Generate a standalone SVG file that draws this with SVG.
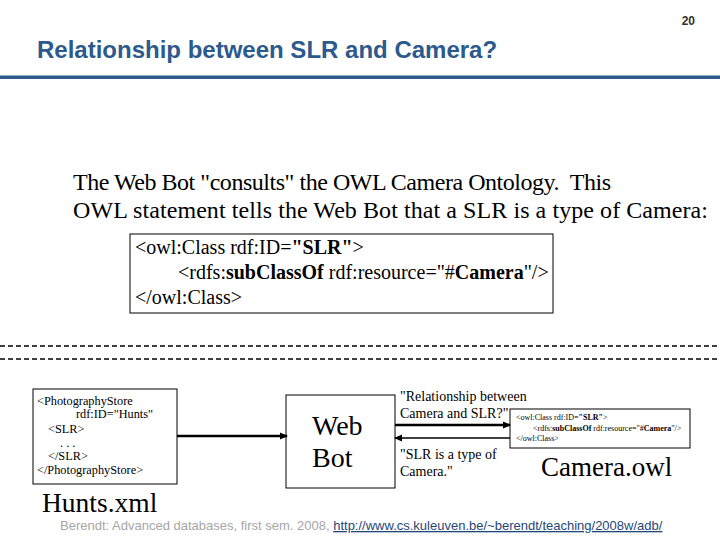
<svg xmlns="http://www.w3.org/2000/svg" width="720" height="540" viewBox="0 0 720 540">
  <style>
    .serif { font-family: "Liberation Serif", "Times New Roman", serif; fill: #000; }
    .sans { font-family: "Liberation Sans", Arial, sans-serif; }
    .box { fill: #fff; stroke: #000; stroke-width: 1; }
    .dash { stroke: #000; stroke-width: 1.3; stroke-dasharray: 5 3; }
    .thick { stroke: #000; stroke-width: 2.5; fill: none; }
    .thin { stroke: #000; stroke-width: 1.3; fill: none; }
    .pre { white-space: pre; }
  </style>
  <defs>
    <marker id="ah" markerWidth="8" markerHeight="8" refX="7" refY="4" orient="auto" markerUnits="userSpaceOnUse">
      <path d="M0,0.5 L8,4 L0,7.5 Z" fill="#000"/>
    </marker>
  </defs>
  <rect width="720" height="540" fill="#fff"/>

  <g id="header">
    <text class="sans" x="695" y="25" font-size="12" font-weight="bold" fill="#333" text-anchor="end">20</text>
    <text class="sans" x="37" y="58" font-size="24" font-weight="bold" fill="#2c5a8c">Relationship between SLR and Camera?</text>
    <rect x="0" y="75.5" width="720" height="3.5" fill="#2c5a8c"/>
  </g>

  <g id="intro-text">
    <text class="serif pre" font-size="24" x="73" y="190" textLength="538">The Web Bot "consults" the OWL Camera Ontology.  This</text>
    <text class="serif pre" font-size="24" x="73" y="218" textLength="635">OWL statement tells the Web Bot that a SLR is a type of Camera:</text>
  </g>

  <g id="owl-statement">
    <rect class="box" x="130" y="234" width="423" height="79"/>
    <text class="serif" font-size="20" x="135" y="254">&lt;owl:Class rdf:ID=<tspan font-weight="bold">"SLR"</tspan>&gt;</text>
    <text class="serif" font-size="20" x="178" y="279">&lt;rdfs:<tspan font-weight="bold">subClassOf</tspan> rdf:resource="#<tspan font-weight="bold">Camera</tspan>"/&gt;</text>
    <text class="serif" font-size="20" x="135" y="304">&lt;/owl:Class&gt;</text>
  </g>

  <g id="separator">
    <line class="dash" x1="0" y1="346" x2="720" y2="346"/>
    <line class="dash" x1="0" y1="359" x2="720" y2="359"/>
  </g>

  <g id="hunts-xml">
    <rect class="box" x="33" y="389" width="144" height="95"/>
    <g class="serif" font-size="12.3">
      <text x="37" y="405">&lt;PhotographyStore</text>
      <text x="76" y="418">rdf:ID="Hunts"</text>
      <text x="48" y="433">&lt;SLR&gt;</text>
      <text x="60" y="447">. . .</text>
      <text x="48" y="460">&lt;/SLR&gt;</text>
      <text x="37" y="474">&lt;/PhotographyStore&gt;</text>
    </g>
    <text class="serif" x="42" y="512" font-size="27.5">Hunts.xml</text>
  </g>

  <g id="web-bot">
    <rect class="box" x="286" y="395" width="109" height="93"/>
    <text class="serif" x="312" y="435" font-size="28">Web</text>
    <text class="serif" x="312" y="467" font-size="28">Bot</text>
  </g>

  <g id="camera-owl">
    <rect class="box" x="510" y="409" width="180" height="39"/>
    <g class="serif" font-size="8">
      <text x="516" y="420">&lt;owl:Class rdf:ID=<tspan font-weight="bold">"SLR"</tspan>&gt;</text>
      <text x="533" y="431">&lt;rdfs:<tspan font-weight="bold">subClassOf</tspan> rdf:resource="#<tspan font-weight="bold">Camera</tspan>"/&gt;</text>
      <text x="516" y="441">&lt;/owl:Class&gt;</text>
    </g>
    <text class="serif" x="541" y="476" font-size="27">Camera.owl</text>
  </g>

  <g id="connectors">
    <line class="thick" x1="177" y1="436" x2="287" y2="436" marker-end="url(#ah)"/>
    <line class="thick" x1="395" y1="425" x2="510" y2="425" marker-end="url(#ah)"/>
    <line class="thin" x1="510" y1="438" x2="395" y2="438" marker-end="url(#ah)"/>
  </g>

  <g id="connector-labels" class="serif" font-size="14">
    <text x="400" y="401">"Relationship between</text>
    <text x="400" y="418">Camera and SLR?"</text>
    <text x="400" y="459">"SLR is a type of</text>
    <text x="400" y="476">Camera."</text>
  </g>

  <g id="footer" class="sans" font-size="13">
    <text x="60" y="530" fill="#a6a6a6">Berendt: Advanced databases, first sem. 2008, <tspan fill="#1f4778" text-decoration="underline">http://www.cs.kuleuven.be/~berendt/teaching/2008w/adb/</tspan></text>
  </g>
</svg>
